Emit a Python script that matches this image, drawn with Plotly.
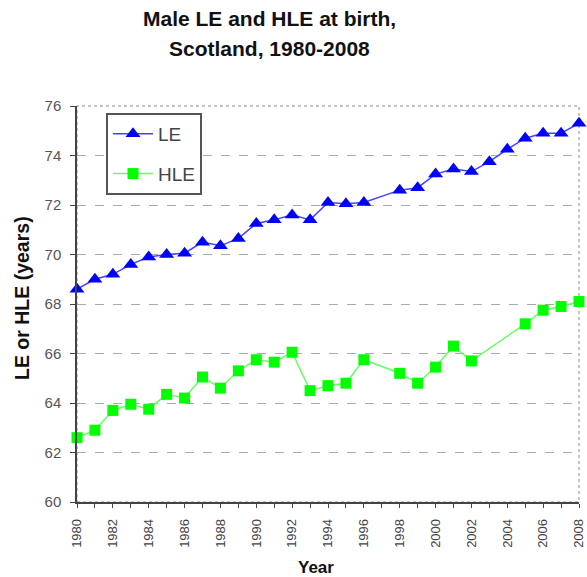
import plotly.graph_objects as go

le_years = [1980, 1981, 1982, 1983, 1984, 1985, 1986, 1987, 1988, 1989, 1990,
            1991, 1992, 1993, 1994, 1995, 1996, 1998, 1999, 2000, 2001, 2002,
            2003, 2004, 2005, 2006, 2007, 2008]
le_values = [68.6, 69.0, 69.2, 69.6, 69.9, 70.0, 70.05, 70.5, 70.35, 70.65, 71.25,
             71.4, 71.6, 71.4, 72.1, 72.05, 72.1, 72.6, 72.7, 73.25, 73.45, 73.35,
             73.75, 74.25, 74.7, 74.9, 74.9, 75.3]

hle_years = [1980, 1981, 1982, 1983, 1984, 1985, 1986, 1987, 1988, 1989, 1990,
             1991, 1992, 1993, 1994, 1995, 1996, 1998, 1999, 2000, 2001, 2002,
             2005, 2006, 2007, 2008]
hle_values = [62.6, 62.9, 63.7, 63.95, 63.75, 64.35, 64.2, 65.05, 64.6, 65.3, 65.75,
              65.65, 66.05, 64.5, 64.7, 64.8, 65.75, 65.2, 64.8, 65.45, 66.3, 65.7,
              67.2, 67.75, 67.9, 68.1]

x_tick_vals = list(range(1980, 2009, 2))
x_tick_text = [str(v) for v in x_tick_vals]
y_tick_vals = list(range(60, 77, 2))

title_lines = ["Male LE and HLE at birth,", "Scotland, 1980-2008"]
x_title = "Year"
y_title = "LE or HLE (years)"

FONT = "Liberation Sans, Arial, sans-serif"
W, H = 587, 577
L, R, T, B = 77, 8, 106, 75
PW, PH = W - L - R, H - T - B


def px(xp):
    return (xp - L) / PW


def py(yp):
    return (H - B - yp) / PH


fig = go.Figure()
fig.add_trace(go.Scatter(
    x=le_years, y=le_values, name="LE", mode="lines+markers",
    line=dict(color="#4444ff", width=1.5),
    marker=dict(symbol="triangle-up", size=13, color="#0000ff"),
    legendgroup="a", cliponaxis=False,
))
fig.add_trace(go.Scatter(
    x=hle_years, y=hle_values, name="HLE", mode="lines+markers",
    line=dict(color="#66ff66", width=1.5),
    marker=dict(symbol="square", size=11, color="#00ff00"),
    legendgroup="b", cliponaxis=False,
))

annotations = [
    dict(text="<b>%s</b>" % title_lines[0], xref="paper", yref="paper",
         x=px(269), y=py(19), showarrow=False, xanchor="center", yanchor="middle",
         font=dict(size=21, color="#111", family=FONT)),
    dict(text="<b>%s</b>" % title_lines[1], xref="paper", yref="paper",
         x=px(269), y=py(49), showarrow=False, xanchor="center", yanchor="middle",
         font=dict(size=21, color="#111", family=FONT)),
    dict(text="<b>%s</b>" % x_title, xref="paper", yref="paper",
         x=px(316), y=py(567), showarrow=False, xanchor="center", yanchor="middle",
         font=dict(size=17, color="#111", family=FONT)),
    dict(text="<b>%s</b>" % y_title, xref="paper", yref="paper",
         x=px(22), y=py(298), showarrow=False, xanchor="center", yanchor="middle",
         textangle=-90, font=dict(size=19.5, color="#111", family=FONT)),
]

fig.update_layout(
    width=W, height=H,
    margin=dict(l=L, r=R, t=T, b=B),
    paper_bgcolor="white", plot_bgcolor="white",
    font=dict(family=FONT, color="#222"),
    showlegend=True,
    annotations=annotations,
    legend=dict(x=px(106), y=py(113), xanchor="left", yanchor="top",
                bgcolor="white", bordercolor="#555", borderwidth=2,
                font=dict(size=19, color="#444"), tracegroupgap=12,
                itemwidth=40),
    xaxis=dict(range=[1980, 2008], tickmode="array", tickvals=x_tick_vals,
               ticktext=x_tick_text, tickangle=-90,
               tickfont=dict(size=13, color="#444"),
               ticks="outside", ticklen=4, tickcolor="#444", ticklabelstandoff=6,
               minor=dict(dtick=1, ticks="outside", ticklen=4, tickcolor="#444"),
               showline=True, linecolor="#444", linewidth=1.5,
               showgrid=False, zeroline=False, automargin=False),
    yaxis=dict(range=[60, 76], tickvals=y_tick_vals,
               tickfont=dict(size=15, color="#555"),
               ticks="outside", ticklen=5, tickcolor="#444", ticklabelstandoff=6,
               showline=True, linecolor="#444", linewidth=1.5,
               showgrid=True, gridcolor="#aaaaaa", griddash="dash", gridwidth=1,
               zeroline=False, automargin=False),
)

fig.add_shape(type="rect", xref="paper", yref="paper", x0=0, y0=0, x1=1, y1=1,
              line=dict(color="#888", width=1, dash="dot"), layer="below")

fig.write_html("out.html", config={"displayModeBar": False},
               post_script="document.body.style.margin='0px';document.body.style.overflow='hidden';")
